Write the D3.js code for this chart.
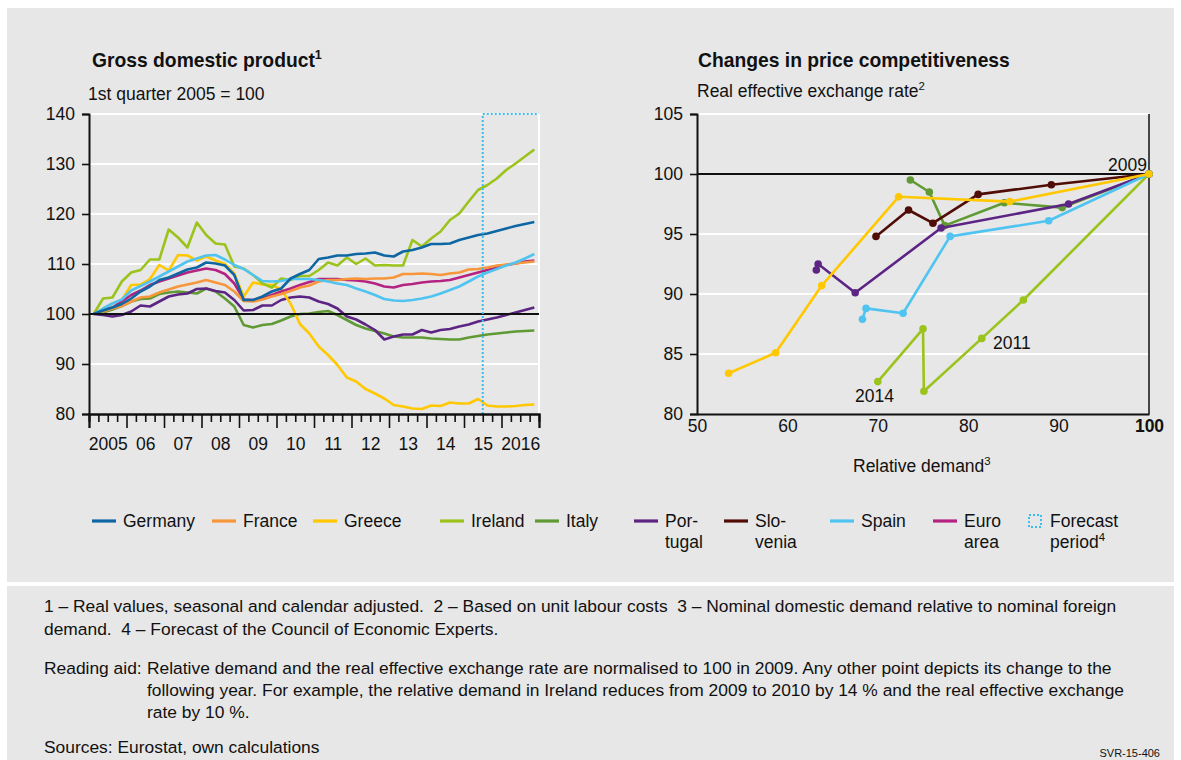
<!DOCTYPE html>
<html lang="en">
<head>
    <meta charset="UTF-8">
    <title>GDP and price competitiveness</title>
    <script src="https://d3js.org/d3.v7.min.js"></script>
    <style>
        html, body {
            margin: 0;
            background: #fff;
        }
        svg text {
            font-family: "Liberation Sans", Arial, sans-serif;
            fill: #111;
        }
    </style>
</head>
<body>
<div id="vis"></div>
<script>
    // ---- data: GDP, quarterly 2005Q1 .. 2016Q4, 1st quarter 2005 = 100 ----
    var yearLabels = ["2005", "06", "07", "08", "09", "10", "11", "12", "13", "14", "15", "2016"];

    var gdpGermany = [100, 100.7, 101.3, 102, 103.1, 104.5, 105.5, 106.8, 107.3, 108.1, 108.9, 109.3,
        110.3, 110.1, 109.7, 107.8, 102.8, 102.8, 103.5, 104.5, 105.1, 107.1, 108, 108.8,
        111, 111.3, 111.7, 111.7, 112, 112.1, 112.3, 111.7, 111.5, 112.5, 112.8, 113.3,
        114, 114, 114.1, 114.8, 115.3, 115.8, 116.1, 116.6, 117.1, 117.6, 118, 118.4];
    var gdpFrance = [100, 100.5, 101.1, 101.6, 102.5, 103.3, 103.5, 104.3, 104.9, 105.5, 105.9, 106.3,
        106.8, 106.3, 105.8, 104.5, 102.6, 102.5, 102.9, 103.5, 104, 104.6, 105.3, 105.7,
        106.5, 106.8, 106.8, 107, 107.1, 107, 107.1, 107.1, 107.3, 108, 108, 108.1,
        108, 107.8, 108.1, 108.3, 108.9, 109, 109.3, 109.7, 109.9, 110.1, 110.3, 110.5];
    var gdpGreece = [100, 101.1, 102.1, 102.8, 105.8, 105.9, 107, 109.8, 108.7, 111.8, 111.7, 110.7,
        111.5, 110.7, 110, 108.1, 103.5, 106.3, 105.9, 105.8, 104.9, 102.1, 98, 96.1,
        93.5, 91.8, 89.8, 87.3, 86.5, 85, 84.1, 83.1, 81.8, 81.5, 81.1, 81,
        81.7, 81.6, 82.3, 82.1, 82.1, 83, 81.7, 81.5, 81.5, 81.6, 81.8, 81.9];
    var gdpIreland = [100, 103.1, 103.3, 106.5, 108.3, 108.8, 110.9, 110.9, 116.9, 115.3, 113.3, 118.3,
        115.8, 114.1, 113.9, 109.5, 109.1, 107.8, 106.1, 105.3, 107.1, 106.8, 107.6, 107.6,
        108.8, 110.3, 109.7, 111.3, 110, 111.1, 109.7, 109.8, 109.7, 109.7, 114.8, 113.5,
        115.1, 116.5, 118.8, 120.1, 122.5, 124.8, 125.8, 127.1, 128.8, 130.1, 131.5, 132.9];
    var gdpItaly = [100, 100.3, 100.9, 101.6, 102.5, 103, 103.1, 104, 104.3, 104.5, 104.3, 104.1,
        105.1, 104.5, 103.1, 101.5, 97.8, 97.3, 97.8, 98, 98.7, 99.5, 100, 100.1,
        100.4, 100.6, 99.8, 98.8, 97.8, 97.1, 96.6, 96.1, 95.5, 95.3, 95.3, 95.3,
        95.1, 95, 94.9, 94.9, 95.3, 95.6, 95.9, 96.1, 96.3, 96.5, 96.6, 96.7];
    var gdpPortugal = [100, 99.8, 99.5, 99.8, 100.5, 101.7, 101.5, 102.5, 103.5, 103.9, 104.1, 105,
        105.1, 104.6, 104.3, 102.8, 100.7, 100.8, 101.7, 101.7, 102.8, 103.3, 103.5, 103.3,
        102.5, 102, 101.1, 99.5, 98.9, 97.9, 96.8, 94.9, 95.5, 95.9, 95.9, 96.8,
        96.3, 96.8, 97, 97.5, 97.9, 98.5, 98.9, 99.3, 99.8, 100.3, 100.8, 101.3];
    var gdpSpain = [100, 101.1, 102.1, 102.9, 104.7, 105.6, 106.5, 107.5, 108.5, 109.5, 110.5, 111.1,
        111.7, 111.8, 110.9, 109.8, 109, 107.8, 106.6, 106.5, 106.6, 107, 107, 107,
        106.8, 106.5, 106.1, 105.8, 105.1, 104.5, 103.8, 103, 102.7, 102.6, 102.8, 103.1,
        103.5, 104.1, 104.8, 105.5, 106.5, 107.5, 108.3, 109, 109.7, 110.3, 111.1, 112];
    var gdpEuro = [100, 100.8, 101.3, 102.5, 103.8, 104.7, 105.8, 106.5, 107.1, 107.7, 108.3, 108.7,
        109.1, 108.8, 108, 106.1, 102.9, 102.8, 103.1, 103.8, 104.5, 105.1, 105.8, 106.4,
        107, 107, 107, 106.8, 106.7, 106.5, 106.1, 105.5, 105.3, 105.8, 106, 106.3,
        106.5, 106.6, 106.8, 107.3, 107.8, 108.3, 108.8, 109.3, 109.8, 110.1, 110.5, 110.7];
    var forecastStart = 42; // quarter index of 2015 Q3

    // ---- data: price competitiveness, yearly 2009 .. 2014 ----
    var demGreece = [100, 84.6, 72.3, 63.8, 58.7, 53.5];
    var reerGreece = [100, 97.7, 98.1, 90.7, 85.1, 83.4];
    var demIreland = [100, 86.1, 81.5, 75.1, 75.0, 70.0];
    var reerIreland = [100, 89.5, 86.3, 81.9, 87.1, 82.7];
    var demItaly = [100, 90.4, 84.0, 77.4, 75.7, 73.6];
    var reerItaly = [100, 97.2, 97.6, 95.7, 98.5, 99.5];
    var demPortugal = [100, 91.1, 77.0, 67.5, 63.4, 63.2];
    var reerPortugal = [100, 97.5, 95.5, 90.1, 92.5, 92.0];
    var demSlovenia = [100, 89.2, 81.1, 76.1, 73.4, 69.8];
    var reerSlovenia = [100, 99.1, 98.3, 95.9, 97.0, 94.8];
    var demSpain = [100, 88.9, 78.0, 72.8, 68.7, 68.3];
    var reerSpain = [100, 96.1, 94.8, 88.4, 88.8, 87.9];

    var col = {
        Germany: "#0e67a3", France: "#f7963a", Greece: "#ffc800", Ireland: "#9bc31c",
        Italy: "#5f9a34", Portugal: "#5c2483", Slovenia: "#4f0d06", Spain: "#50c4f0",
        Euro: "#b42382", Forecast: "#3dbdee"
    };
    var bg = "#e7e7e7";

    var svg = d3.select("#vis").append("svg")
        .attr("width", 1181).attr("height", 760);

    // panels
    svg.append("rect").attr("x", 7).attr("y", 8).attr("width", 1167).attr("height", 574).attr("fill", bg);
    svg.append("rect").attr("x", 7).attr("y", 586).attr("width", 1167).attr("height", 180).attr("fill", bg);

    /* ---------------- left chart: GDP ---------------- */
    var xL = d3.scaleLinear().domain([0, 48]).range([89, 539]);
    var yL = d3.scaleLinear().domain([80, 140]).range([414, 114]);

    var gL = svg.append("g");

    // white grid lines
    gL.selectAll(".gridL").data([90, 110, 120, 130, 140]).enter().append("line")
        .attr("x1", xL(0)).attr("x2", xL(48))
        .attr("y1", function(d) { return yL(d); }).attr("y2", function(d) { return yL(d); })
        .attr("stroke", "#fff").attr("stroke-width", 2);
    gL.append("line").attr("x1", xL(48)).attr("x2", xL(48)).attr("y1", yL(140)).attr("y2", yL(80))
        .attr("stroke", "#fff").attr("stroke-width", 2);

    var lineL = d3.line()
        .x(function(d, i) { return xL(i + 0.5); })
        .y(function(d) { return yL(d); });

    var gdpSeries = [
        ["Italy", gdpItaly], ["Portugal", gdpPortugal], ["Greece", gdpGreece], ["Ireland", gdpIreland],
        ["Euro", gdpEuro], ["France", gdpFrance], ["Spain", gdpSpain], ["Germany", gdpGermany]
    ];
    gL.selectAll(".gdp").data(gdpSeries).enter().append("path")
        .attr("fill", "none")
        .attr("stroke", function(d) { return col[d[0]]; })
        .attr("stroke-width", 2.6)
        .attr("stroke-linejoin", "round")
        .attr("d", function(d) { return lineL(d[1]); });

    // 100 baseline
    gL.append("line").attr("x1", xL(0)).attr("x2", xL(48)).attr("y1", yL(100)).attr("y2", yL(100))
        .attr("stroke", "#111").attr("stroke-width", 2);

    // forecast period box
    gL.append("path")
        .attr("d", "M" + xL(forecastStart) + "," + yL(80) + "V" + yL(140) + "H" + xL(48))
        .attr("fill", "none").attr("stroke", col.Forecast).attr("stroke-width", 2)
        .attr("stroke-dasharray", "2,2");

    // axes
    gL.append("g").attr("transform", "translate(" + xL(0) + ",0)")
        .call(d3.axisLeft(yL).tickValues([80, 90, 100, 110, 120, 130, 140]).tickSize(7).tickPadding(7));
    gL.append("g").attr("transform", "translate(0," + yL(80) + ")")
        .call(d3.axisBottom(xL).tickValues(d3.range(0, 49).filter(function(q) { return q % 4 !== 0; }))
            .tickSize(8).tickFormat(""));
    gL.append("g").attr("transform", "translate(0," + yL(80) + ")")
        .call(d3.axisBottom(xL).tickValues(d3.range(0, 49, 4)).tickSize(14).tickFormat(""));
    var xLab = gL.append("g").attr("transform", "translate(0," + yL(80) + ")")
        .call(d3.axisBottom(xL).tickValues(d3.range(2, 48, 4)).tickSize(0).tickPadding(24)
            .tickFormat(function(d, i) { return yearLabels[i]; }));
    xLab.select(".domain").remove();

    /* ---------------- right chart: price competitiveness ---------------- */
    var xR = d3.scaleLinear().domain([50, 100]).range([697, 1149]);
    var yR = d3.scaleLinear().domain([80, 105]).range([414, 114]);
    var gR = svg.append("g");

    gR.selectAll(".gridR").data([85, 90, 95, 105]).enter().append("line")
        .attr("x1", xR(50)).attr("x2", xR(100))
        .attr("y1", function(d) { return yR(d); }).attr("y2", function(d) { return yR(d); })
        .attr("stroke", "#fff").attr("stroke-width", 2);
    gR.append("line").attr("x1", xR(50)).attr("x2", xR(100)).attr("y1", yR(100)).attr("y2", yR(100))
        .attr("stroke", "#111").attr("stroke-width", 2);
    gR.append("line").attr("x1", xR(100)).attr("x2", xR(100)).attr("y1", yR(105)).attr("y2", yR(80))
        .attr("stroke", "#111").attr("stroke-width", 1.5);

    var compSeries = [
        ["Ireland", demIreland, reerIreland], ["Italy", demItaly, reerItaly],
        ["Portugal", demPortugal, reerPortugal], ["Slovenia", demSlovenia, reerSlovenia],
        ["Spain", demSpain, reerSpain], ["Greece", demGreece, reerGreece]
    ];
    var lineR = d3.line()
        .x(function(d) { return xR(d[0]); })
        .y(function(d) { return yR(d[1]); });

    compSeries.forEach(function(s) {
        var pts = s[1].map(function(v, i) { return [v, s[2][i]]; });
        var g = gR.append("g");
        g.append("path").attr("d", lineR(pts)).attr("fill", "none")
            .attr("stroke", col[s[0]]).attr("stroke-width", 2.6).attr("stroke-linejoin", "round");
        g.selectAll("circle").data(pts).enter().append("circle")
            .attr("cx", function(d) { return xR(d[0]); })
            .attr("cy", function(d) { return yR(d[1]); })
            .attr("r", 3.8).attr("fill", col[s[0]]);
    });

    gR.append("g").attr("transform", "translate(" + xR(50) + ",0)")
        .call(d3.axisLeft(yR).tickValues([80, 85, 90, 95, 100, 105]).tickSize(7).tickPadding(7));
    var xAxisR = gR.append("g").attr("transform", "translate(0," + yR(80) + ")")
        .call(d3.axisBottom(xR).tickValues([50, 60, 70, 80, 90, 100]).tickSize(0).tickPadding(6));
    xAxisR.selectAll(".tick text").filter(function(d) { return d === 100; }).attr("font-weight", "bold");

    // style all axes
    svg.selectAll(".domain").attr("stroke", "#111").attr("stroke-width", 2);
    svg.selectAll(".tick line").attr("stroke", "#111").attr("stroke-width", 1.6);
    svg.selectAll(".tick text").attr("font-size", "17.5px").attr("fill", "#111")
        .attr("font-family", "Liberation Sans, Arial, sans-serif");

    // point labels
    gR.append("text").attr("x", 1147).attr("y", 171).attr("text-anchor", "end")
        .attr("font-size", "17.5px").text("2009");
    gR.append("text").attr("x", 993).attr("y", 349).attr("font-size", "17.5px").text("2011");
    gR.append("text").attr("x", 855).attr("y", 402).attr("font-size", "17.5px").text("2014");

    /* ---------------- titles ---------------- */
    function titleWithSup(x, y, txt, sup, size, weight) {
        var t = svg.append("text").attr("x", x).attr("y", y)
            .attr("font-size", size + "px").attr("font-weight", weight);
        t.append("tspan").text(txt);
        t.append("tspan").attr("dy", -size * 0.4).attr("font-size", (size * 0.65) + "px").text(sup);
        return t;
    }
    titleWithSup(92, 67, "Gross domestic product", "1", 19.3, "bold");
    titleWithSup(698, 67, "Changes in price competitiveness", "", 19.3, "bold");
    titleWithSup(88, 100, "1st quarter 2005 = 100", "", 17.5, "normal");
    titleWithSup(697, 97, "Real effective exchange rate", "2", 17.5, "normal");
    titleWithSup(853, 472, "Relative demand", "3", 17.5, "normal");

    /* ---------------- legend ---------------- */
    var legendItems = [
        ["Germany", ["Germany"]], ["France", ["France"]], ["Greece", ["Greece"]],
        ["Ireland", ["Ireland"]], ["Italy", ["Italy"]], ["Portugal", ["Por-", "tugal"]],
        ["Slovenia", ["Slo-", "venia"]], ["Spain", ["Spain"]], ["Euro", ["Euro", "area"]]
    ];
    var legendX = [92, 212, 313, 440, 535, 634, 724, 830, 933];
    var lg = svg.append("g");
    legendItems.forEach(function(it, i) {
        var x0 = legendX[i];
        lg.append("line").attr("x1", x0).attr("x2", x0 + 24).attr("y1", 521).attr("y2", 521)
            .attr("stroke", col[it[0]]).attr("stroke-width", 3.2);
        it[1].forEach(function(line, j) {
            lg.append("text").attr("x", x0 + 31).attr("y", 527 + j * 21)
                .attr("font-size", "17.5px").text(line);
        });
    });
    lg.append("rect").attr("x", 1029).attr("y", 515).attr("width", 12).attr("height", 12)
        .attr("fill", "none").attr("stroke", col.Forecast).attr("stroke-width", 2)
        .attr("stroke-dasharray", "2,2");
    lg.append("text").attr("x", 1050).attr("y", 527).attr("font-size", "17.5px").text("Forecast");
    titleWithSup(1050, 548, "period", "4", 17.5, "normal");

    /* ---------------- footnotes ---------------- */
    var notes = [
        [44, 612, "1 \u2013 Real values, seasonal and calendar adjusted.  2 \u2013 Based on unit labour costs  3 \u2013 Nominal domestic demand relative to nominal foreign"],
        [44, 635, "demand.  4 \u2013 Forecast of the Council of Economic Experts."],
        [44, 674, "Reading aid:"],
        [147, 674, "Relative demand and the real effective exchange rate are normalised to 100 in 2009. Any other point depicts its change to the"],
        [147, 696, "following year. For example, the relative demand in Ireland reduces from 2009 to 2010 by 14 % and the real effective exchange"],
        [147, 718, "rate by 10 %."],
        [44, 753, "Sources: Eurostat, own calculations"]
    ];
    svg.selectAll(".note").data(notes).enter().append("text")
        .attr("x", function(d) { return d[0]; }).attr("y", function(d) { return d[1]; })
        .attr("font-size", "17.4px").style("white-space", "pre")
        .text(function(d) { return d[2]; });
    svg.append("text").attr("x", 1160).attr("y", 757).attr("text-anchor", "end")
        .attr("font-size", "11px").text("SVR-15-406");
</script>
</body>
</html>
